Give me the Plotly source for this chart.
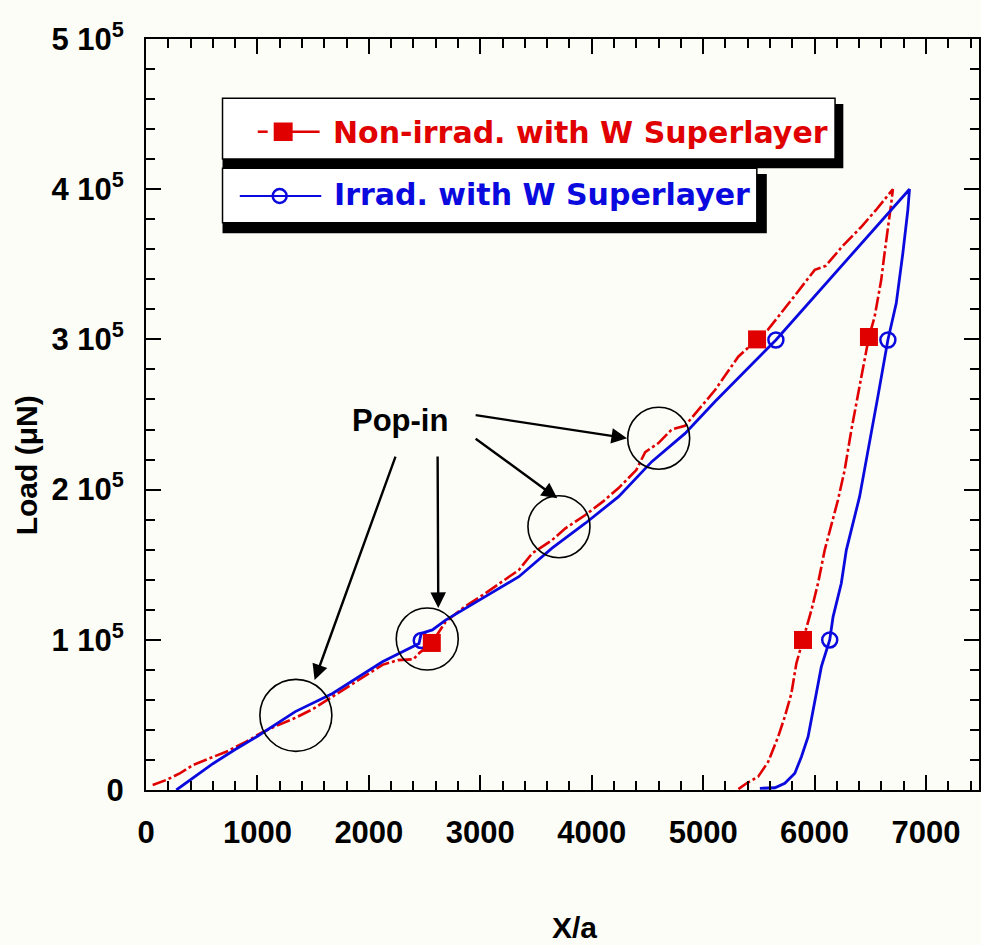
import plotly.graph_objects as go

# ---------------- data ----------------
red_load_x = [60, 183, 302, 421, 570, 720, 899, 1033, 1180, 1340, 1500, 1674, 1900, 2122, 2260, 2400, 2450,
              2565, 2689, 2850, 3047, 3200, 3346, 3465, 3644, 3764, 3943, 4100, 4241, 4400, 4480, 4599, 4718,
              4838, 4980, 5107, 5315, 5484, 5582, 5800, 6002, 6100, 6250, 6414, 6550, 6703]
red_load_y = [3300, 6700, 11000, 16600, 21100, 25500, 32200, 38000, 43000, 48000, 54000, 62200, 72500, 83300,
              86500, 87000, 91000, 97900, 112000, 121500, 131000, 139000, 146500, 157500, 166400, 174200, 183100,
              192000, 201000, 213000, 225000, 231000, 240000, 242500, 255000, 266300, 288500, 300000, 306500,
              327000, 346300, 349000, 362000, 374500, 386000, 400000]
red_unl_x = [6688, 6628, 6598, 6539, 6488, 6420, 6330, 6270, 6210, 6091, 6031, 5972, 5896, 5837, 5792, 5733,
             5673, 5584, 5494, 5390, 5315]
red_unl_y = [390600, 357300, 339500, 315100, 301600, 275200, 239600, 213000, 193100, 159700, 137600, 119800,
             99900, 84400, 64300, 48800, 35500, 18800, 8900, 4500, 500]

blue_load_x = [272, 400, 600, 800, 1000, 1340, 1674, 2122, 2391, 2450, 2470, 2570, 2689, 3047, 3346, 3644, 3943,
               4241, 4539, 4838, 5107, 5653, 6658, 6852]
blue_load_y = [0, 7000, 17500, 27000, 35800, 52200, 64300, 85400, 95400, 97500, 104300, 106600, 113100, 128700,
               142000, 161000, 177600, 195300, 218600, 237400, 258600, 299600, 384200, 400000]
blue_unl_x = [6837, 6792, 6733, 6658, 6568, 6479, 6404, 6285, 6240, 6166, 6136, 6061, 6002, 5942, 5882, 5823,
              5733, 5644, 5509]
blue_unl_y = [386100, 357300, 324000, 299600, 261900, 224200, 195300, 159700, 137600, 115300, 99900, 82100,
              57700, 35500, 22200, 11100, 4500, 1500, 1100]

red_mark_x = [2565, 5484, 6488, 5896]
red_mark_y = [97900, 300000, 301600, 99900]
blue_mark_x = [2470, 5653, 6658, 6136]
blue_mark_y = [99500, 299600, 299600, 99900]

series_names = ["Non-irrad. with W Superlayer", "Irrad. with W Superlayer"]

x_tickvals = [0, 1000, 2000, 3000, 4000, 5000, 6000, 7000]
y_tickvals = [0, 100000, 200000, 300000, 400000, 500000]
y_ticktext = ["0", "1 10<sup>5</sup>", "2 10<sup>5</sup>", "3 10<sup>5</sup>", "4 10<sup>5</sup>", "5 10<sup>5</sup>"]

popin_label = "Pop-in"
popin_circle_x = [1345, 2524, 3706, 4601]
popin_circle_y = [49700, 100500, 175300, 234200]
popin_circle_r = [36, 31, 31, 31]
arrow_tail_x = [2244, 2617, 2945, 2945]
arrow_tail_y = [223000, 223000, 234600, 249700]
arrow_head_x = [1513, 2623, 3691, 4317]
arrow_head_y = [73200, 121200, 194200, 234200]

# ---------------- styling ----------------
RED = "#e00000"
BLUE = "#0a0ade"
BG = "#fdfdf8"
ARIAL = "Liberation Sans, Arial, sans-serif"
VERD = "DejaVu Sans, Verdana, sans-serif"

W, H = 981, 945
ML, MR, MT, MB = 146, 0, 39, 155
PW, PH = W - ML - MR, H - MT - MB


def PX(px):
    return (px - ML) / PW


def PY(py):
    return (H - MB - py) / PH


fig = go.Figure()

fig.add_trace(go.Scatter(x=red_load_x + red_unl_x, y=red_load_y + red_unl_y, mode="lines",
                         line=dict(color=RED, width=2.6, dash="14px,3px,3px,3px"),
                         name=series_names[0], showlegend=False))
fig.add_trace(go.Scatter(x=blue_load_x + blue_unl_x, y=blue_load_y + blue_unl_y, mode="lines",
                         line=dict(color=BLUE, width=2.8), name=series_names[1], showlegend=False))
fig.add_trace(go.Scatter(x=blue_mark_x, y=blue_mark_y, mode="markers",
                         marker=dict(symbol="circle-open", size=15, color=BLUE, line=dict(width=2.5, color=BLUE)),
                         showlegend=False))
fig.add_trace(go.Scatter(x=red_mark_x, y=red_mark_y, mode="markers",
                         marker=dict(symbol="square", size=18, color=RED, line=dict(width=0)),
                         showlegend=False))

shapes = []
# pop-in circles
for cx, cy, r in zip(popin_circle_x, popin_circle_y, popin_circle_r):
    shapes.append(dict(type="circle", xref="x", yref="y", xsizemode="pixel", ysizemode="pixel",
                       xanchor=cx, yanchor=cy, x0=-r, x1=r, y0=-r, y1=r,
                       line=dict(color="black", width=1.6), layer="above"))

# legend boxes with drop shadows
def rect(x0, y0, x1, y1, fill, lw=0, lc="black"):
    return dict(type="rect", xref="paper", yref="paper", x0=PX(x0), x1=PX(x1), y0=PY(y1), y1=PY(y0),
                fillcolor=fill, line=dict(width=lw, color=lc), layer="above")


shapes.append(rect(222.7, 104, 845, 168.3, "black"))
shapes.append(rect(222.7, 98.3, 836.7, 159, "white", 1.5))
shapes.append(rect(222.7, 174, 768.3, 233.3, "black"))
shapes.append(rect(222.7, 168.3, 758.3, 222.7, "white", 1.5))


def hline(x0, x1, y, color, w):
    return dict(type="line", xref="paper", yref="paper", x0=PX(x0), x1=PX(x1), y0=PY(y), y1=PY(y),
                line=dict(color=color, width=w), layer="above")


shapes.append(hline(258, 268, 131.7, RED, 2.5))
shapes.append(hline(283, 320, 131.7, RED, 2.5))
shapes.append(rect(274, 122.5, 293, 141, RED))
shapes.append(hline(240, 321.7, 196, BLUE, 2))
shapes.append(dict(type="circle", xref="paper", yref="paper", x0=PX(273), x1=PX(287), y0=PY(203), y1=PY(189),
                   line=dict(color=BLUE, width=2.5), layer="above"))

annotations = [
    dict(text=series_names[0], xref="paper", yref="paper", x=PX(331), y=PY(132), xanchor="left",
         yanchor="middle", showarrow=False, font=dict(family=VERD, size=30, color=RED, weight="bold")),
    dict(text=series_names[1], xref="paper", yref="paper", x=PX(332), y=PY(195), xanchor="left",
         yanchor="middle", showarrow=False, font=dict(family=VERD, size=30, color=BLUE, weight="bold")),
    dict(text="Load (\u03bcN)", xref="paper", yref="paper", x=PX(26), y=PY(465), textangle=-90,
         xanchor="center", yanchor="middle", showarrow=False,
         font=dict(family=ARIAL, size=30, color="black", weight="bold")),
    dict(text="X/a", xref="paper", yref="paper", x=PX(575.5), y=PY(927), xanchor="center", yanchor="middle",
         showarrow=False, font=dict(family=ARIAL, size=30, color="black", weight="bold")),
    dict(text=popin_label, xref="x", yref="y", x=2283, y=245700, xanchor="center", yanchor="middle",
         showarrow=False, font=dict(family=ARIAL, size=31, color="black", weight="bold")),
]
for tx, ty, hx, hy in zip(arrow_tail_x, arrow_tail_y, arrow_head_x, arrow_head_y):
    annotations.append(dict(text="", x=hx, y=hy, ax=tx, ay=ty, xref="x", yref="y", axref="x", ayref="y",
                            showarrow=True, arrowhead=2, arrowsize=1.3, arrowwidth=2.4, arrowcolor="black",
                            standoff=0, startstandoff=0))

tickfont = dict(family=ARIAL, size=31, color="black", weight="bold")
fig.update_layout(
    width=W, height=H, margin=dict(l=ML, r=MR, t=MT, b=MB),
    paper_bgcolor=BG, plot_bgcolor=BG, showlegend=False,
    shapes=shapes, annotations=annotations,
    xaxis=dict(range=[0, PW / (834.7 / 7473)], tickvals=x_tickvals, ticks="inside", ticklen=15, tickwidth=2,
               tickcolor="black", showline=True, linewidth=2, linecolor="black", mirror="allticks",
               showgrid=False, zeroline=False, tickfont=tickfont, ticklabelstandoff=14,
               minor=dict(dtick=200, ticks="inside", ticklen=9, tickwidth=2, tickcolor="black", showgrid=False)),
    yaxis=dict(range=[0, 500000], tickvals=y_tickvals, ticktext=y_ticktext, ticks="inside", ticklen=15,
               tickwidth=2, tickcolor="black", showline=True, linewidth=2, linecolor="black", mirror="allticks",
               showgrid=False, zeroline=False, tickfont=tickfont, ticklabelstandoff=14,
               minor=dict(dtick=20000, ticks="inside", ticklen=9, tickwidth=2, tickcolor="black", showgrid=False)),
)

fig.write_html("out.html", config={"displayModeBar": False},
               post_script="document.body.style.margin='0';document.body.style.overflow='hidden';"
                           "document.documentElement.style.overflow='hidden';")
